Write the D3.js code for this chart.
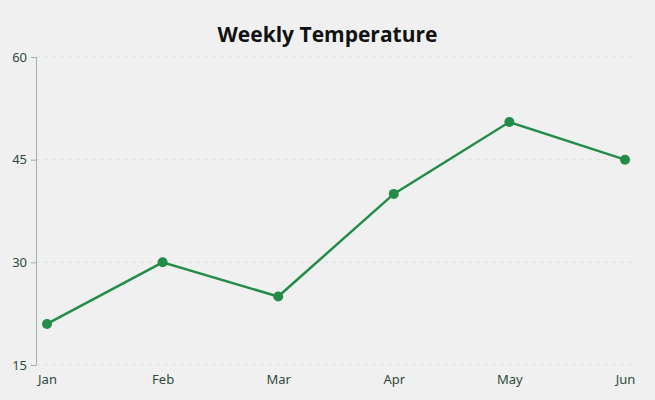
<!DOCTYPE html>
<html>
<head>
<meta charset="utf-8">
<script src="https://cdn.jsdelivr.net/npm/d3@7"></script>
<style>
  body { margin: 0; background: #f0f0f0; }
  svg { display: block; font-family: "Open Sans", "Noto Sans", sans-serif; }
</style>
</head>
<body>
<svg id="chart" width="655" height="400"></svg>
<script>
// chart data
let months = ["Jan", "Feb", "Mar", "Apr", "May", "Jun"];
let temps = [21, 30, 25, 40, 50.5, 45];
let yTicks = [15, 30, 45, 60];

let svg = d3.select("#chart");
let width = +svg.attr("width");
let height = +svg.attr("height");
let margin = { top: 57, right: 23, bottom: 35, left: 36 };
let font = "'Noto Sans', 'Open Sans', sans-serif";

svg.append("rect").attr("width", width).attr("height", height).attr("fill", "#f0f0f0");

let xScale = d3.scalePoint()
    .domain(months)
    .range([margin.left + 11, width - margin.right - 7]);

let yScale = d3.scaleLinear()
    .domain([15, 60])
    .range([height - margin.bottom, margin.top]);

// dashed grid lines
svg.append("g")
    .selectAll("line")
    .data(yTicks)
    .enter()
    .append("line")
    .attr("x1", margin.left)
    .attr("x2", width - margin.right)
    .attr("y1", d => yScale(d))
    .attr("y2", d => yScale(d))
    .attr("stroke", "#dde3df")
    .attr("stroke-width", 1)
    .attr("stroke-dasharray", "4,4");

// y axis
let yAxis = svg.append("g")
    .attr("transform", `translate(${margin.left},0)`)
    .call(d3.axisLeft(yScale).tickValues(yTicks).tickSize(5).tickPadding(4));
yAxis.attr("font-family", font).attr("font-size", 13);
yAxis.select(".domain").attr("stroke", "#9db3a5");
yAxis.selectAll(".tick line").attr("stroke", "#9db3a5");
yAxis.selectAll(".tick text").attr("fill", "#2d4a3a");

// x axis (labels only)
let xAxis = svg.append("g")
    .attr("transform", `translate(0,${height - margin.bottom})`)
    .call(d3.axisBottom(xScale).tickSize(0).tickPadding(10));
xAxis.attr("font-family", font).attr("font-size", 13);
xAxis.select(".domain").remove();
xAxis.selectAll(".tick text").attr("fill", "#2d4a3a");

let data = months.map((m, i) => ({ month: m, value: temps[i] }));

let line = d3.line()
    .x(d => xScale(d.month))
    .y(d => yScale(d.value));

svg.append("path")
    .datum(data)
    .attr("fill", "none")
    .attr("stroke", "#238c47")
    .attr("stroke-width", 2.5)
    .attr("d", line);

svg.selectAll(".dot")
    .data(data)
    .enter()
    .append("circle")
    .attr("class", "dot")
    .attr("cx", d => xScale(d.month))
    .attr("cy", d => yScale(d.value))
    .attr("r", 5)
    .attr("fill", "#238c47");

svg.append("text")
    .attr("x", width / 2)
    .attr("y", 42)
    .attr("text-anchor", "middle")
    .attr("font-size", 21)
    .attr("font-weight", "bold")
    .attr("fill", "#111")
    .text("Weekly Temperature");
</script>
</body>
</html>
